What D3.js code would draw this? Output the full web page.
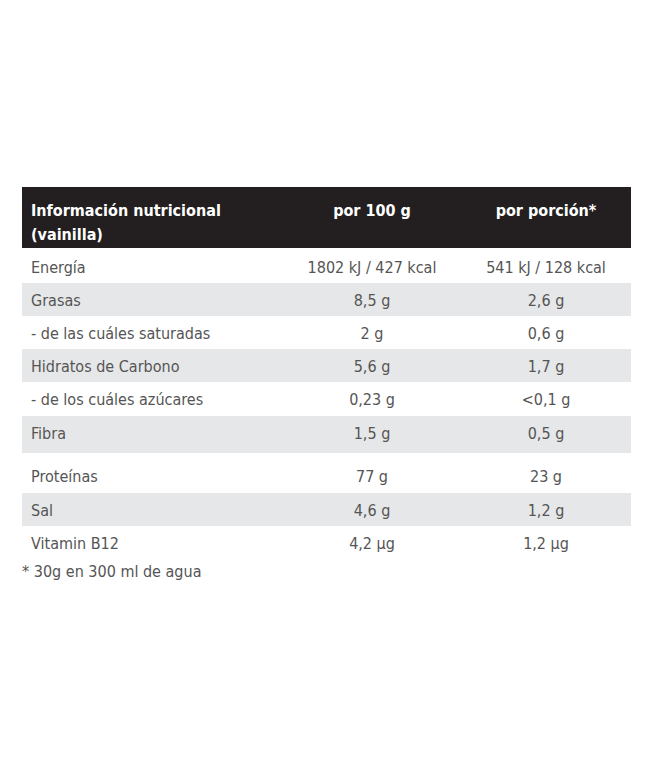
<!DOCTYPE html>
<html lang="es">
<head>
  <meta charset="utf-8">
  <script src="https://cdn.jsdelivr.net/npm/d3@7"></script>
  <style>
      body { margin: 0; background: #fff; }
      text { font-family: "Liberation Sans Narrow", "DejaVu Sans Condensed", "Arial Narrow", sans-serif; }
  </style>
</head>
<body>
<script>
    // Table content
    var headers = ['Información nutricional', 'por 100 g', 'por porción*'];
    var headerSub = '(vainilla)';
    var labels = ['Energía', 'Grasas', '- de las cuáles saturadas', 'Hidratos de Carbono',
                  '- de los cuáles azúcares', 'Fibra', 'Proteínas', 'Sal', 'Vitamin B12'];
    var per100 = ['1802 kJ / 427 kcal', '8,5 g', '2 g', '5,6 g', '0,23 g', '1,5 g', '77 g', '4,6 g', '4,2  µg'];
    var perServing = ['541 kJ / 128 kcal', '2,6 g', '0,6 g', '1,7 g', '<0,1 g', '0,5 g', '23 g', '1,2 g', '1,2 µg'];
    var footnote = '* 30g en 300 ml de agua';

    // Layout
    var W = 661, H = 783, tLeft = 22, tRight = 631, tTop = 187, headH = 61;
    var rowH = [33, 33, 33, 33, 34, 37, 40, 33, 34];
    var rowY = [];
    var acc = tTop + headH + 2;
    rowH.forEach(function(h){ rowY.push(acc); acc += h; });

    var svg = d3.select('body').append('svg').attr('width', W).attr('height', H);
    var x = d3.scaleOrdinal().domain([0, 1, 2]).range([31, 372, 546]);

    svg.append('rect').attr('x', tLeft).attr('y', tTop).attr('width', tRight - tLeft)
        .attr('height', headH).attr('fill', '#231f20');

    svg.selectAll('text.h').data(headers).enter().append('text')
        .attr('class', 'h')
        .attr('x', function(d, i){ return x(i); })
        .attr('y', tTop + 29)
        .attr('text-anchor', function(d, i){ return i ? 'middle' : 'start'; })
        .attr('fill', '#fff').attr('font-weight', 'bold').attr('font-size', 16)
        .text(function(d){ return d; });
    svg.append('text').attr('x', x(0)).attr('y', tTop + 53)
        .attr('fill', '#fff').attr('font-weight', 'bold').attr('font-size', 16).text(headerSub);

    var rows = svg.selectAll('g.row').data(labels).enter().append('g')
        .attr('class', 'row')
        .attr('transform', function(d, i){ return 'translate(0,' + rowY[i] + ')'; });

    rows.append('rect').attr('x', tLeft).attr('width', tRight - tLeft)
        .attr('height', function(d, i){ return rowH[i]; })
        .attr('fill', function(d, i){ return i % 2 ? '#e6e7e8' : '#fff'; });

    rows.each(function(d, i) {
        var g = d3.select(this);
        [labels[i], per100[i], perServing[i]].forEach(function(t, c) {
            g.append('text').attr('x', x(c)).attr('y', i === 6 ? 29 : 23)
                .attr('text-anchor', c ? 'middle' : 'start')
                .attr('fill', '#555').attr('font-size', 16).text(t);
        });
    });

    svg.append('text').attr('x', tLeft).attr('y', acc + 17)
        .attr('fill', '#555').attr('font-size', 16).text(footnote);
</script>
</body>
</html>
